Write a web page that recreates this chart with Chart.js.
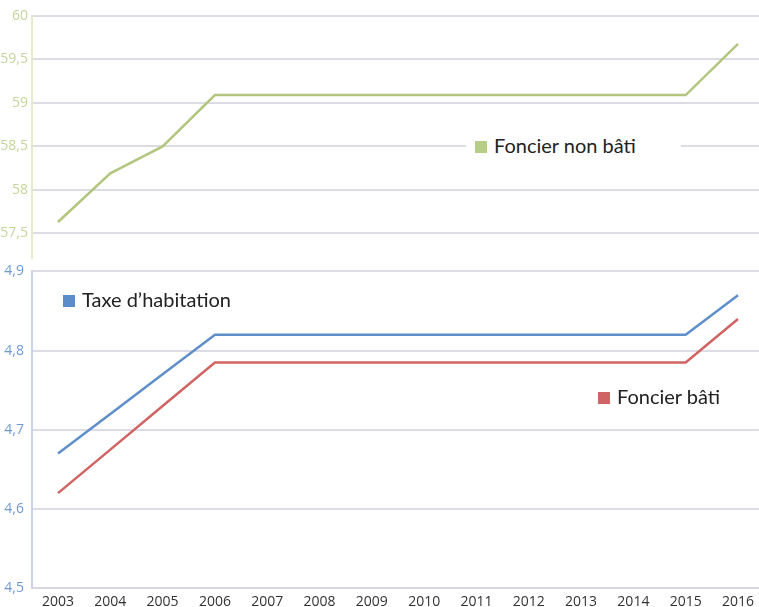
<!DOCTYPE html>
<html>
<head>
<meta charset="utf-8">
<script src="https://cdn.jsdelivr.net/npm/chart.js@4/dist/chart.umd.min.js"></script>
<style>
  html, body { margin: 0; padding: 0; background: #fff; }
  #wrap { position: relative; width: 759px; height: 607px; overflow: hidden; }
  canvas { position: absolute; left: 0; }
  .lbl {
    position: absolute; background: #fff; color: #222;
    font-family: Lato, "Open Sans", sans-serif; font-size: 20px;
    line-height: 22px; white-space: nowrap;
  }
  .lbl i { display: inline-block; width: 12px; height: 12px; margin-right: 7px; vertical-align: 0px; }
</style>
</head>
<body>
<div id="wrap">
  <canvas id="top" width="759" height="270" style="top:0"></canvas>
  <canvas id="bottom" width="759" height="362" style="top:255px"></canvas>
  <div class="lbl" style="left:466px; top:125px; padding:9px 10px 9px 9px; width:196px;"><i style="background:#b7cc86"></i>Foncier non bâti</div>
  <div class="lbl" style="left:57px; top:288px; padding:0 6px;"><i style="background:#5b8dcb"></i>Taxe d’habitation</div>
  <div class="lbl" style="left:590px; top:385px; padding:0 8px;"><i style="background:#d06363"></i>Foncier bâti</div>
</div>
<script>
(function () {
    "use strict";

    // Data
    const years = [2003, 2004, 2005, 2006, 2007, 2008, 2009, 2010, 2011, 2012, 2013, 2014, 2015, 2016];
    const foncierNonBati = [57.63, 58.19, 58.5, 59.09, 59.09, 59.09, 59.09, 59.09, 59.09, 59.09, 59.09, 59.09, 59.09, 59.68];
    const taxeHabitation = [4.67, 4.72, 4.77, 4.82, 4.82, 4.82, 4.82, 4.82, 4.82, 4.82, 4.82, 4.82, 4.82, 4.87];
    const foncierBati = [4.62, 4.675, 4.73, 4.785, 4.785, 4.785, 4.785, 4.785, 4.785, 4.785, 4.785, 4.785, 4.785, 4.84];
    const topTicks = [57.5, 58, 58.5, 59, 59.5, 60];
    const bottomTicks = [4.5, 4.6, 4.7, 4.8, 4.9];

    const toPoints = (vals) => vals.map((v, i) => ({ x: years[i], y: v }));
    const comma = (v) => String(v).replace(".", ",");
    const gridColor = "#dcdce4";

    const xScale = (show) => ({
        type: "linear",
        min: 2002.503,
        max: 2016.401,
        display: show,
        grid: { display: false, drawTicks: false, tickLength: 0 },
        border: { display: show, color: "#d6d6dc", width: 2 },
        ticks: {
            stepSize: 1,
            includeBounds: false,
            autoSkip: false,
            maxRotation: 0,
            padding: 5,
            color: "#333",
            font: { family: "'Open Sans', sans-serif", size: 14 },
            callback: (v) => (Number.isInteger(v) ? String(v) : ""),
        },
    });

    const lineDs = (label, vals, color) => ({
        label: label,
        data: toPoints(vals),
        borderColor: color,
        borderWidth: 2.5,
        pointRadius: 0,
        tension: 0,
    });

    // Top chart
    new Chart(document.getElementById("top").getContext("2d"), {
        type: "line",
        data: { datasets: [lineDs("Foncier non bâti", foncierNonBati, "#b3c67f")] },
        options: {
            responsive: false,
            animation: false,
            layout: { padding: { top: 16, bottom: 4, left: 0, right: 0 } },
            plugins: { legend: { display: false }, tooltip: { enabled: false } },
            scales: {
                x: xScale(false),
                y: {
                    min: 57.22,
                    max: 60,
                    afterFit: (s) => { s.width = 32; },
                    afterBuildTicks: (s) => { s.ticks = topTicks.map((v) => ({ value: v })); },
                    grid: { color: gridColor, lineWidth: 2, drawTicks: false },
                    border: { color: "#e6ecc8", width: 2 },
                    ticks: {
                        padding: 4,
                        color: "#c5d49a",
                        font: { family: "'Open Sans', sans-serif", size: 14 },
                        callback: comma,
                    },
                },
            },
        },
    });

    // Bottom chart
    new Chart(document.getElementById("bottom").getContext("2d"), {
        type: "line",
        data: {
            datasets: [
                lineDs("Taxe d’habitation", taxeHabitation, "#5e8fcb"),
                lineDs("Foncier bâti", foncierBati, "#d06462"),
            ],
        },
        options: {
            responsive: false,
            animation: false,
            layout: { padding: { top: 9, bottom: 2, left: 0, right: 0 } },
            plugins: { legend: { display: false }, tooltip: { enabled: false } },
            scales: {
                x: xScale(true),
                y: {
                    min: 4.5,
                    max: 4.9,
                    afterFit: (s) => { s.width = 32; },
                    afterBuildTicks: (s) => { s.ticks = bottomTicks.map((v) => ({ value: v })); },
                    grid: { color: gridColor, lineWidth: 2, drawTicks: false },
                    border: { color: "#cdd3ea", width: 2 },
                    ticks: {
                        padding: 8,
                        color: "#7199d4",
                        font: { family: "'Open Sans', sans-serif", size: 14 },
                        callback: comma,
                    },
                },
            },
        },
    });
})();
</script>
</body>
</html>
